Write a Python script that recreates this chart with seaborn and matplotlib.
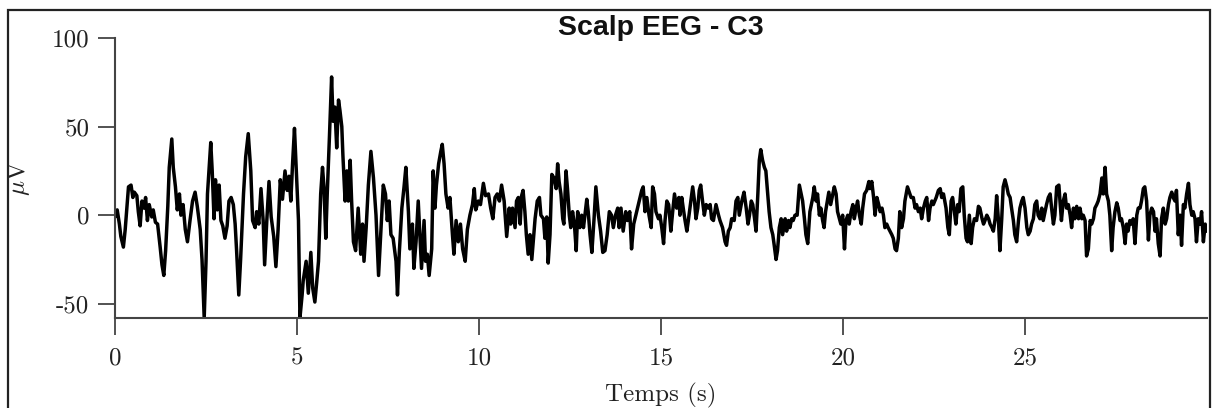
import pandas as pd
import matplotlib.pyplot as plt
import matplotlib.patches as patches
import seaborn as sns

# Data: EEG trace (time in s, amplitude in uV)
time_s = [
    0.00, 0.06, 0.12, 0.16, 0.23, 0.28, 0.37, 0.44, 0.49, 0.53, 0.60, 0.64, 0.69, 0.74, 0.80, 0.84,
    0.89, 0.94, 1.01, 1.05, 1.11, 1.17, 1.24, 1.29, 1.34, 1.39, 1.45, 1.49, 1.56, 1.60, 1.66, 1.71,
    1.77, 1.81, 1.87, 1.93, 1.99, 2.06, 2.13, 2.20, 2.26, 2.34, 2.39, 2.45, 2.50, 2.54, 2.58, 2.63,
    2.67, 2.72, 2.76, 2.81, 2.86, 2.91, 2.96, 3.02, 3.08, 3.13, 3.19, 3.25, 3.30, 3.34, 3.40, 3.45,
    3.53, 3.59, 3.66, 3.73, 3.78, 3.85, 3.89, 3.95, 4.01, 4.07, 4.11, 4.17, 4.23, 4.29, 4.36, 4.42,
    4.48, 4.54, 4.60, 4.67, 4.73, 4.78, 4.83, 4.88, 4.93, 4.98, 5.04,
    5.08, 5.14, 5.17, 5.25, 5.31, 5.38, 5.43, 5.49, 5.54, 5.59, 5.65, 5.70, 5.74, 5.79, 5.83, 5.89,
    5.95, 5.99, 6.04, 6.09, 6.14, 6.18, 6.23, 6.26, 6.32, 6.37, 6.41, 6.46, 6.50, 6.55, 6.61, 6.68,
    6.75, 6.80, 6.84, 6.90, 6.96, 7.03, 7.10, 7.17, 7.24, 7.30, 7.37, 7.43, 7.48, 7.53, 7.58, 7.64,
    7.72, 7.76, 7.81, 7.88, 7.94, 7.99, 8.06, 8.10, 8.17, 8.21, 8.27, 8.33, 8.38, 8.42, 8.49, 8.53,
    8.58, 8.63, 8.70, 8.74, 8.79, 8.83, 8.89, 8.95, 8.99, 9.04, 9.09, 9.15, 9.20, 9.27, 9.31, 9.37,
    9.43, 9.49, 9.55, 9.62, 9.68, 9.75, 9.82, 9.87, 9.91, 9.98, 10.04, 10.12, 10.18,
    10.26, 10.32, 10.38, 10.44, 10.50, 10.56, 10.62, 10.69, 10.76, 10.83, 10.87, 10.92, 10.99, 11.03,
    11.08, 11.13, 11.17, 11.21, 11.26, 11.30, 11.35, 11.40, 11.45, 11.49, 11.54, 11.60, 11.66, 11.70,
    11.77, 11.81, 11.86, 11.90, 11.95, 12.00, 12.06, 12.12, 12.16, 12.20, 12.25, 12.30, 12.33, 12.39,
    12.43, 12.48, 12.52, 12.57, 12.62, 12.67, 12.71, 12.77, 12.82, 12.87, 12.91, 12.96, 13.00, 13.05,
    13.10, 13.16, 13.21, 13.28, 13.34, 13.40, 13.46, 13.52, 13.58, 13.64, 13.69, 13.75, 13.81, 13.85,
    13.90, 13.96, 14.03, 14.08, 14.14, 14.19, 14.25, 14.33, 14.40, 14.47, 14.51, 14.56, 14.61, 14.67,
    14.73, 14.77, 14.82, 14.86, 14.93, 14.97, 15.02, 15.07, 15.11, 15.16, 15.21, 15.27, 15.32, 15.37,
    15.43, 15.49,
    15.52, 15.57, 15.61, 15.66, 15.71, 15.75, 15.82, 15.87, 15.92, 15.96, 16.01, 16.05, 16.09, 16.14,
    16.19, 16.24, 16.30, 16.35, 16.39, 16.44, 16.51, 16.58, 16.62, 16.69, 16.76, 16.80, 16.85, 16.90,
    16.94, 17.01, 17.06, 17.11, 17.15, 17.22, 17.28, 17.34, 17.39, 17.43, 17.48, 17.52, 17.57, 17.61,
    17.66, 17.70, 17.74, 17.79, 17.84, 17.88, 17.93, 17.97, 18.02, 18.07, 18.11, 18.16, 18.20, 18.25,
    18.30, 18.34, 18.41, 18.45, 18.50, 18.54, 18.59, 18.63, 18.68, 18.74, 18.80, 18.84, 18.89, 18.94,
    18.98, 19.03, 19.09, 19.17, 19.21, 19.26, 19.30, 19.35, 19.39, 19.44, 19.48, 19.52, 19.57, 19.61,
    19.66, 19.72, 19.76, 19.81, 19.85, 19.90, 19.94, 19.99, 20.04, 20.08, 20.13, 20.17, 20.22, 20.27,
    20.31, 20.36, 20.40, 20.45, 20.50, 20.54, 20.59, 20.65, 20.71,
    20.74, 20.79, 20.84, 20.88, 20.93, 20.98, 21.02, 21.07, 21.11, 21.15, 21.20, 21.24, 21.29, 21.34,
    21.38, 21.43, 21.47, 21.52, 21.56, 21.61, 21.66, 21.70, 21.77, 21.82, 21.87, 21.93, 21.98, 22.02,
    22.07, 22.12, 22.16, 22.21, 22.26, 22.30, 22.35, 22.39, 22.44, 22.48, 22.56, 22.62, 22.67, 22.71,
    22.76, 22.83, 22.88, 22.92, 22.97, 23.01, 23.06, 23.10, 23.15, 23.19, 23.24, 23.29, 23.33, 23.38,
    23.42, 23.47, 23.52, 23.56, 23.61, 23.67, 23.72, 23.76, 23.82, 23.86, 23.90, 23.95, 24.00, 24.04,
    24.09, 24.13, 24.18, 24.22, 24.27, 24.31, 24.36, 24.40, 24.45, 24.50, 24.54, 24.59, 24.63, 24.68,
    24.72, 24.77, 24.82, 24.86, 24.91, 24.95, 25.00, 25.05, 25.09, 25.14, 25.18, 25.23, 25.27, 25.32,
    25.36, 25.41, 25.46, 25.50, 25.55, 25.59, 25.64, 25.69, 25.73, 25.78, 25.82, 25.87, 25.93,
    25.96, 26.00, 26.05, 26.10, 26.14, 26.19, 26.24, 26.28, 26.33, 26.37, 26.42, 26.47, 26.51, 26.56,
    26.60, 26.65, 26.69, 26.74, 26.79, 26.83, 26.88, 26.92, 26.97, 27.01, 27.06, 27.11, 27.15, 27.20,
    27.24, 27.29, 27.33, 27.38, 27.42, 27.47, 27.52, 27.56, 27.61, 27.65, 27.70, 27.75, 27.79, 27.83,
    27.88, 27.93, 27.97, 28.02, 28.07, 28.11, 28.16, 28.20, 28.25, 28.29, 28.34, 28.39, 28.43, 28.48,
    28.53, 28.57, 28.61, 28.66, 28.71, 28.75, 28.80, 28.85, 28.89, 28.94, 28.98, 29.03, 29.07, 29.12,
    29.16, 29.21, 29.26, 29.30, 29.35, 29.39, 29.44, 29.49, 29.53, 29.58, 29.62, 29.67, 29.71, 29.76,
    29.81, 29.85, 29.90, 29.95, 29.99,
]

amplitude_uv = [
    -1, 3, -5, -12, -18, -8, 16, 17, 10, 13, 11, 2, -6, 8, 4, 10,
    -3, 6, -1, 3, -4, -5, -18, -28, -34, -20, 5, 27, 43, 27, 16, 3,
    12, 0, 6, -8, -15, -3, 8, 13, 5, -8, -25, -58, -26, 12, 25, 41,
    25, -2, 20, 3, 17, -3, -6, -13, -6, 8, 10, 6, -5, -20, -45, -25,
    12, 33, 46, 25, -3, -7, 2, -5, 15, -3, -28, -3, 19, -1, -12, -29,
    -8, 20, 9, 25, 14, 22, 8, 30, 49, 25, -3,
    -58, -45, -37, -26, -44, -21, -41, -49, -38, -26, 12, 27, 16, -13, 12, 44,
    78, 53, 61, 38, 65, 59, 50, 34, 8, 25, 8, 31, 8, -15, -20, 4,
    -22, -5, -26, -7, 17, 36, 21, 0, -34, -11, 17, 12, -3, 8, -11, -13,
    -26, -45, -21, 4, 16, 27, 2, -19, -5, -30, -15, 8, -13, -30, -3, -26,
    -22, -34, -19, 25, 4, 17, 29, 36, 40, 29, 12, 4, 10, -11, -22, -3,
    -15, -5, -19, -26, -8, 0, 6, 15, 3, 8, 6, 18, 11,
    12, 4, -2, 10, 12, 8, 17, 8, -12, 4, -5, 4, -7, 8,
    10, -5, 11, 14, 2, -11, -22, -11, -25, -15, -2, 8, 10, 0,
    -2, -13, -1, -27, -11, 23, 21, 15, 29, 19, 12, -2, -5, 25,
    15, 0, -7, 2, -5, -20, 2, -7, 0, -7, 0, 9, 2, -11,
    -21, -2, 16, 0, -9, -21, -20, -11, 2, 0, -7, 0, 4, -7,
    4, -9, 2, -3, 2, -19, -5, 2, 8, 14, 16, 2, 10, 0,
    -7, 16, 12, 2, -2, 0, -7, -16, -3, 8, 6, -9, 2, 12,
    4, 10,
    0, 10, 4, -3, -9, -3, 8, 16, 8, -2, 4, 14, 17, 8,
    0, 6, 4, 6, -2, -3, 6, 0, -3, -7, -15, -17, -9, -7,
    -2, -3, 8, 10, 0, 8, 13, 4, -5, 0, 8, 6, -2, -9,
    12, 31, 37, 31, 27, 25, 12, 2, -7, -11, -17, -25, -20, -7,
    -2, -11, -2, -9, -3, -7, -2, -3, 0, 0, 17, 13, 8, -2,
    -11, -16, 2, 10, 16, 8, 12, 0, 4, -3, -7, 2, 8, 13,
    6, 12, 16, 12, 2, -2, -5, 0, -19, -3, 0, -5, 2, 6,
    -2, 4, 8, 0, -5, 4, 12, 14, 19,
    15, 19, 10, 0, 10, 6, 2, 4, 0, -7, -5, -7, -9, -11,
    -13, -19, -20, -13, 2, -7, -2, 8, 16, 13, 10, 10, 4, 6,
    2, 4, -2, 4, 8, 10, -3, 4, 8, 6, 10, 14, 15, 10,
    12, 4, -7, -11, 8, 10, 2, -5, 6, 2, 15, 16, 0, -13,
    -15, 0, -16, -7, -2, -3, 5, 4, -2, -5, -3, 0, -2, -5,
    -7, -9, -2, 11, -3, -20, -2, 16, 20, 16, 12, 10, 4, -3,
    -11, -15, -3, 4, 8, 10, 4, -7, -11, -9, -5, -2, 6, 8,
    0, -2, 4, -3, 2, 6, 10, 12, 4, -5, 0, 16, 17,
    8, -3, 8, 12, 4, 6, 0, -7, 4, -2, 5, -2, 4, -2,
    0, -3, -23, -19, -3, -5, -2, 4, 6, 8, 12, 21, 12, 27,
    12, 8, 0, -20, -7, 2, 7, 4, -3, -2, -7, -16, -5, -9,
    -3, -5, -2, -16, 0, 4, 4, 8, 15, 16, 8, -14, 0, 4,
    2, -9, -2, -16, -23, -2, 4, -5, -2, 6, 10, 13, 10, 8,
    14, -11, 0, -17, 6, 4, 12, 18, 6, 0, 2, -2, -15, -2,
    -5, 2, -15, -5, -9,
]

x_ticks = [0, 5, 10, 15, 20, 25]
x_tick_labels = ["0", "5", "10", "15", "20", "25"]
y_ticks = [-50, 0, 50, 100]
y_tick_labels = ["-50", "0", "50", "100"]

df = pd.DataFrame({"time": time_s, "uv": amplitude_uv})

# Style
sns.set_theme(style="white")
plt.rcParams["mathtext.fontset"] = "cm"
axis_color = "#444444"

fig = plt.figure(figsize=(12.12, 4.08), dpi=100)
ax = fig.add_axes([0.0949, 0.2206, 0.901, 0.6863])

sns.lineplot(data=df, x="time", y="uv", ax=ax, color="black", linewidth=2.5,
             estimator=None, sort=False)

ax.set_xlim(0, 30)
ax.set_ylim(-58, 100)

ax.set_xticks(x_ticks)
ax.set_xticklabels(x_tick_labels, fontfamily="cmr10", fontsize=18)
ax.set_yticks(y_ticks)
ax.set_yticklabels(y_tick_labels, fontfamily="cmr10", fontsize=18)
ax.tick_params(axis="both", direction="out", length=12.5, width=1.3,
               color=axis_color, labelcolor="#222222", pad=6, bottom=True, left=True)
ax.tick_params(axis="x", pad=9)

for side in ["top", "right"]:
    ax.spines[side].set_visible(False)
for side in ["left", "bottom"]:
    ax.spines[side].set_color(axis_color)
    ax.spines[side].set_linewidth(1.5)

ax.set_xlabel("Temps (s)", fontfamily="cmr10", fontsize=18, color="#222222", labelpad=9)
ax.set_ylabel(r"$\mu\mathrm{V}$", fontsize=18, color="#222222", labelpad=14)
ax.set_title("Scalp EEG - C3", fontfamily="Liberation Sans", fontweight="bold",
             fontsize=20.5, color="#111111", pad=2)

# Frame around the whole figure (bottom edge falls outside the image)
border = patches.Rectangle((0.0066, -0.02), 0.9917, 0.9955, transform=fig.transFigure,
                           fill=False, edgecolor="#222222", linewidth=1.6)
fig.patches.append(border)

plt.savefig("out.png", dpi=100)
plt.close()
print("Chart saved: out.png")
